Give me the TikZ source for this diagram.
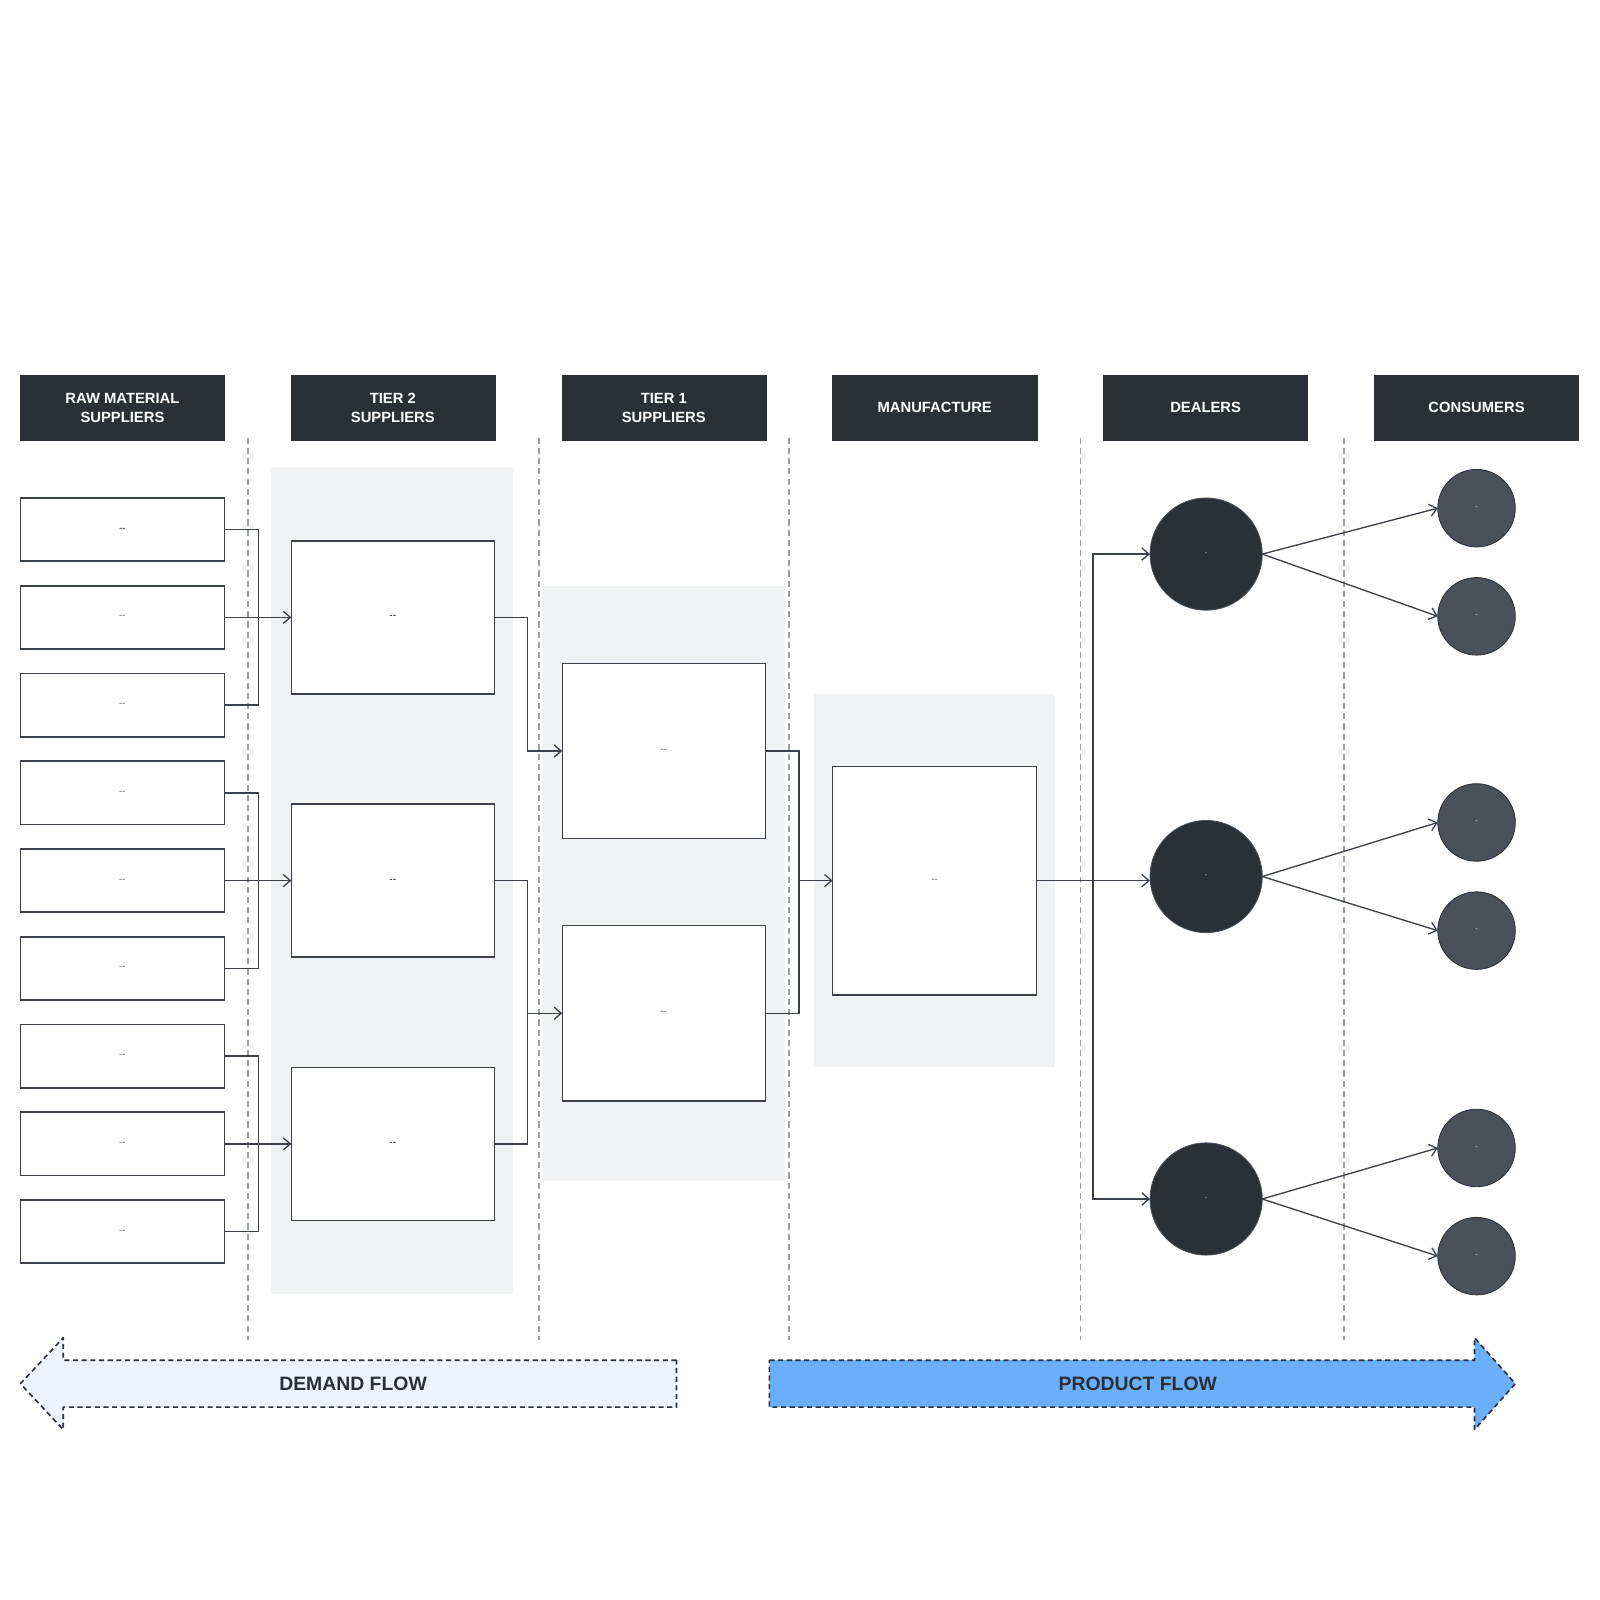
\documentclass[tikz,border=0pt]{standalone}
\usepackage{fontspec}
\setmainfont{Liberation Sans}
\usetikzlibrary{positioning, arrows.meta}
\definecolor{ink}{HTML}{2B2F36}
\definecolor{wire}{HTML}{3C4049}
\definecolor{slate}{HTML}{4B515B}
\definecolor{panelgray}{HTML}{F1F2F4}
\definecolor{divgray}{HTML}{9AA0A8}
\definecolor{dashtxt}{HTML}{6B7078}
\definecolor{palebl}{HTML}{EDF4FF}
\definecolor{skybl}{HTML}{6BAFFB}
\newcommand{\dd}{{-}{-}}
\tikzset{
  hdr/.style={fill=ink, draw=ink, minimum width=200pt, minimum height=63pt,
              inner sep=0pt, outer sep=0pt, align=center, text=white,
              font=\fontsize{14.5}{18.5}\selectfont\bfseries},
  rawbox/.style={draw=wire, line width=1.6pt, fill=white, minimum width=200pt,
                 minimum height=62pt, inner sep=0pt, outer sep=0pt, text=dashtxt,
                 font=\fontsize{10}{10}\selectfont},
  tbox/.style={draw=wire, line width=1.4pt, fill=white, minimum width=199pt,
               inner sep=0pt, outer sep=0pt, font=\fontsize{10}{10}\selectfont},
  dealer/.style={circle, fill=ink, draw=slate, line width=0.8pt, minimum size=110pt,
                 inner sep=0pt, outer sep=0pt, text=white!70!ink,
                 font=\fontsize{8}{8}\selectfont},
  cons/.style={circle, fill=slate, draw=ink, line width=0.8pt, minimum size=76pt,
               inner sep=0pt, outer sep=0pt, text=white!70!slate,
               font=\fontsize{8}{8}\selectfont},
  link/.style={draw=wire, line width=1.3pt},
  flow/.style={link, -{Straight Barb[length=7pt, width=12pt, line width=1.3pt]}},
  divider/.style={draw=divgray, line width=1.5pt, dash pattern=on 6pt off 4pt},
  panel/.style={fill=panelgray},
  bigarrow/.style={draw=ink, line width=1.6pt, dash pattern=on 5pt off 3.5pt,
                   line join=round},
  flowtxt/.style={text=ink, font=\fontsize{19}{20}\selectfont\bfseries}
}
\begin{document}
\begin{tikzpicture}[x=1pt, y=-1pt]
  \useasboundingbox (0,0) rectangle (1568,1568);
  % shaded bands
  \fill[panel] (266,458) rectangle (503,1268);
  \fill[panel] (531,574) rectangle (769,1157);
  \fill[panel] (798,680) rectangle (1034,1046);
  \foreach \x in {243,528,773,1059,1317}
    \draw[divider] (\x,429) -- (\x,1313);

  % column headers
  \node[hdr] (hraw)  at (120,399.5)  {RAW MATERIAL\\SUPPLIERS};
  \node[hdr] (htwo)  at (385,399.5)  {TIER 2\\SUPPLIERS};
  \node[hdr] (hone)  at (650.5,399.5) {TIER 1\\SUPPLIERS};
  \node[hdr] (hman)  at (916,399.5)  {MANUFACTURE};
  \node[hdr] (hdeal) at (1181.5,399.5) {DEALERS};
  \node[hdr] (hcons) at (1447,399.5) {CONSUMERS};

  % raw material suppliers
  \node[rawbox, text=ink] (raw1) at (120,519) {\dd};
  \foreach \i [remember=\i as \j (initially 1)] in {2,...,9}
    \node[rawbox, below=24pt of raw\j] (raw\i) {\dd};

  % tier 2 / tier 1 / manufacture
  \node[tbox, minimum height=150pt] (t2a) at (385,605)  {\dd};
  \node[tbox, minimum height=150pt] (t2b) at (385,863)  {\dd};
  \node[tbox, minimum height=150pt] (t2c) at (385,1121) {\dd};
  \node[tbox, minimum height=172pt, text=dashtxt] (t1a) at (650.5,736) {\dd};
  \node[tbox, minimum height=172pt, text=dashtxt] (t1b) at (650.5,993) {\dd};
  \node[tbox, minimum height=224pt, minimum width=200pt, text=dashtxt] (mf) at (916,863) {\dd};

  % dealers and consumers
  \node[dealer] (d1) at (1182,543)  {-};
  \node[dealer] (d2) at (1182,859)  {-};
  \node[dealer] (d3) at (1182,1175) {-};
  \node[cons] (c1) at (1447,498)  {-};
  \node[cons] (c2) at (1447,604)  {-};
  \node[cons] (c3) at (1447,806)  {-};
  \node[cons] (c4) at (1447,912)  {-};
  \node[cons] (c5) at (1447,1125) {-};
  \node[cons] (c6) at (1447,1231) {-};

  % junctions
  \coordinate (jA) at (253,605);
  \coordinate (jB) at (253,863);
  \coordinate (jC) at (253,1121);
  \coordinate (jT1) at (517,736);
  \coordinate (jT2) at (517,993);
  \coordinate (jM) at (783,863);
  \coordinate (jD) at (1071,863);

  % raw -> tier 2
  \draw[link] (raw1.east) -| (jA) |- (raw3.east);
  \draw[link] (raw4.east) -| (jB) |- (raw6.east);
  \draw[link] (raw7.east) -| (jC) |- (raw9.east);
  \draw[flow] (raw2.east) -- (t2a.west);
  \draw[flow] (raw5.east) -- (t2b.west);
  \draw[flow] (raw8.east) -- (t2c.west);
  % tier 2 -> tier 1
  \draw[flow] (t2a.east) -| (jT1) -- (t1a.west);
  \draw[link] (t2b.east) -| (jT2) |- (t2c.east);
  \draw[flow] (jT2) -- (t1b.west);
  % tier 1 -> manufacture
  \draw[link] (t1a.east) -| (jM) |- (t1b.east);
  \draw[flow] (jM) -- (mf.west);
  % manufacture -> dealers
  \draw[flow] (mf.east) -- (mf.east -| d2.west);
  \draw[flow] (jD) |- (d1.west);
  \draw[flow] (jD) |- (d3.west);
  % dealers -> consumers
  \draw[flow] (d1.east) -- (c1.west);
  \draw[flow] (d1.east) -- (c2.west);
  \draw[flow] (d2.east) -- (c3.west);
  \draw[flow] (d2.east) -- (c4.west);
  \draw[flow] (d3.east) -- (c5.west);
  \draw[flow] (d3.east) -- (c6.west);

  % flow arrows
  \draw[bigarrow, fill=palebl] (663,1333) -- (62,1333) -- (62,1311) -- (20,1356)
    -- (62,1401) -- (62,1379) -- (663,1379) -- cycle;
  \node[flowtxt] (demand) at (346,1356) {DEMAND FLOW};
  \draw[bigarrow, fill=skybl] (754,1333) -- (1445,1333) -- (1445,1311) -- (1485,1356)
    -- (1445,1401) -- (1445,1379) -- (754,1379) -- cycle;
  \node[flowtxt] (product) at (1115,1356) {PRODUCT FLOW};
\end{tikzpicture}
\end{document}
